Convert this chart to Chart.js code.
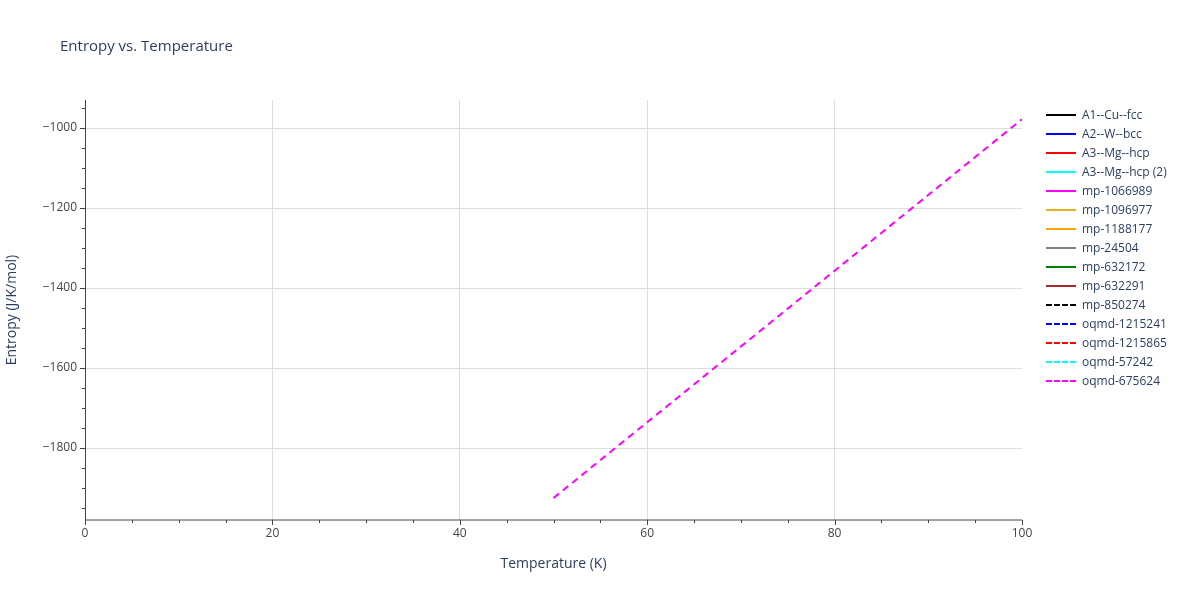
<!DOCTYPE html>
<html><head><meta charset="utf-8">
<script src="https://cdn.jsdelivr.net/npm/chart.js@4/dist/chart.umd.min.js"></script>
<style>
body{margin:0;background:#fff;font-family:"Open Sans",sans-serif;color:#2a3f5f}
#wrap{position:relative;width:1200px;height:600px}
#title{position:absolute;left:60px;top:35px;font-size:15px}
#legend{position:absolute;left:1046px;top:105px;font-size:12px}
.it{display:flex;align-items:center;height:19px}
.sw{width:30px;height:0;border-top:2px solid;margin-right:6px}
</style></head><body>
<div id="wrap"><canvas id="c" width="1200" height="600"></canvas>
<div id="title">Entropy vs. Temperature</div><div id="legend"></div></div>
<script>
const seriesNames=["A1--Cu--fcc","A2--W--bcc","A3--Mg--hcp","A3--Mg--hcp (2)","mp-1066989","mp-1096977","mp-1188177","mp-24504","mp-632172","mp-632291","mp-850274","oqmd-1215241","oqmd-1215865","oqmd-57242","oqmd-675624"];
const seriesColors=["#000000","#0000ff","#ff0000","#00ffff","#ff00ff","#e6b422","#ffa500","#808080","#008000","#a52a2a","#000000","#0000ff","#ff0000","#00ffff","#ff00ff"];
const seriesDashed=[false,false,false,false,false,false,false,false,false,false,true,true,true,true,true];
const temps=[50,100];
const entropy675624=[-1925,-978];
const datasets=seriesNames.map((n,i)=>({label:n,borderColor:seriesColors[i],borderWidth:2,pointRadius:0,
  borderDash:seriesDashed[i]?[7,5]:[],
  data:i===14?temps.map((t,k)=>({x:t,y:entropy675624[k]})):[]}));
const lg=document.getElementById('legend');
seriesNames.forEach((n,i)=>{lg.innerHTML+=`<div class="it"><div class="sw" style="border-top:2px ${seriesDashed[i]?'dashed':'solid'} ${seriesColors[i]}"></div>${n}</div>`});
const minor={id:'minor',afterDraw(ch){const c=ch.ctx,x=ch.scales.x,y=ch.scales.y,a=ch.chartArea;c.save();c.strokeStyle='#444';c.lineWidth=1;
 for(let v=0;v<=100;v+=5){const p=Math.round(x.getPixelForValue(v))+.5;c.beginPath();c.moveTo(p,a.bottom);c.lineTo(p,a.bottom+(v%20?3:5));c.stroke();}
 for(let v=-1950;v<=-950;v+=50){const p=Math.round(y.getPixelForValue(v))+.5;c.beginPath();c.moveTo(a.left,p);c.lineTo(a.left-(v%200?3:5),p);c.stroke();}
 c.beginPath();c.moveTo(a.left+.5,a.top);c.lineTo(a.left+.5,a.bottom);c.lineTo(a.right,a.bottom);c.stroke();c.restore();}};
new Chart(document.getElementById('c'),{type:'line',data:{datasets},plugins:[minor],
options:{responsive:false,animation:false,layout:{padding:{left:0,right:178,top:100,bottom:24}},
plugins:{legend:{display:false},tooltip:{enabled:false}},
scales:{x:{type:'linear',min:0,max:100,afterFit:s=>{s.height=56},
  ticks:{stepSize:20,color:'#444',font:{family:'Open Sans',size:12},padding:6},
  grid:{color:ctx=>(ctx.tick.value>0&&ctx.tick.value<100)?'#dddddd':'rgba(0,0,0,0)',drawTicks:false},border:{display:false},
  title:{display:true,text:'Temperature (K)',color:'#2a3f5f',font:{family:'Open Sans',size:14},padding:{top:14}}},
 y:{min:-1980,max:-930,afterFit:s=>{s.width=85},afterBuildTicks:s=>{s.ticks=[-1800,-1600,-1400,-1200,-1000].map(v=>({value:v}))},
  ticks:{color:'#444',font:{family:'Open Sans',size:12},padding:8,callback:v=>'\u2212'+Math.abs(v)},
  grid:{color:'#dddddd',drawTicks:false},border:{display:false},
  title:{display:true,text:'Entropy (J/K/mol)',color:'#2a3f5f',font:{family:'Open Sans',size:14},padding:{bottom:4}}}}}});
</script></body></html>
